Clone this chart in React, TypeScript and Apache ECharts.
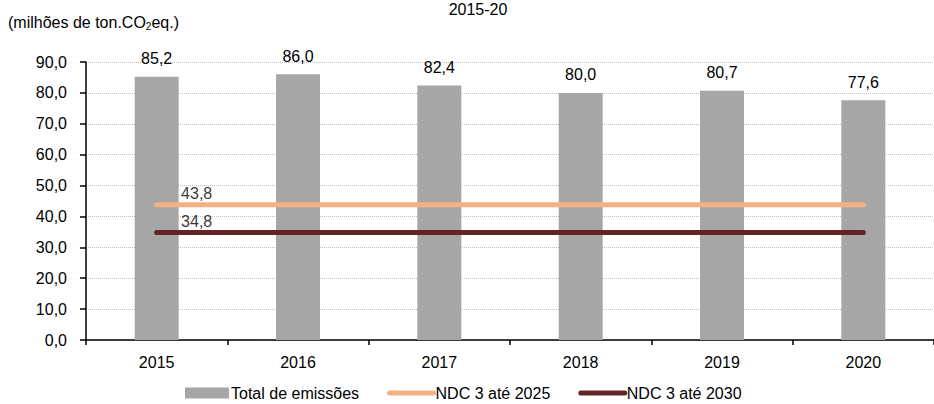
import React, { useEffect, useRef } from "react";
import * as echarts from "echarts";

const years = ["2015", "2016", "2017", "2018", "2019", "2020"];
const totalEmissoes = [85.2, 86.0, 82.4, 80.0, 80.7, 77.6];
const ndc2025 = [43.8, 43.8, 43.8, 43.8, 43.8, 43.8];
const ndc2030 = [34.8, 34.8, 34.8, 34.8, 34.8, 34.8];
const seriesNames = ["Total de emissões", "NDC 3 até 2025", "NDC 3 até 2030"];
const titleText = "2015-20";

const FONT = "'Liberation Sans Narrow', 'Arial Narrow', 'Liberation Sans', Arial, sans-serif";
const FS = 16;
const fmt = (v: number) => v.toFixed(1).replace(".", ",");

export default function App() {
  const ref = useRef<HTMLDivElement>(null);
  useEffect(() => {
    if (!ref.current) return;
    const chart = echarts.init(ref.current, undefined, { renderer: "svg" });
    chart.setOption({
      animation: false,
      backgroundColor: "#ffffff",
      textStyle: { fontFamily: FONT, color: "#000" },
      title: {
        text: titleText,
        left: 478,
        top: 1,
        textAlign: "center",
        padding: 0,
        textStyle: { fontFamily: FONT, fontSize: FS, fontWeight: "normal", color: "#000" },
      },
      graphic: [
        {
          type: "text",
          left: 8,
          top: 14,
          style: {
            text: "(milhões de ton.CO{sub|2}eq.)",
            fontFamily: FONT,
            fontSize: FS,
            fill: "#000",
            rich: {
              sub: { fontFamily: FONT, fontSize: 10, fill: "#000", verticalAlign: "bottom", padding: [8, 0, 0, 0] },
            },
          },
        },
      ],
      legend: {
        left: 180,
        top: 380,
        itemGap: 28,
        itemWidth: 44,
        itemHeight: 11,
        textStyle: { fontFamily: FONT, fontSize: FS, color: "#000", padding: [0, 0, 0, -3] },
        data: [
          { name: seriesNames[0], icon: "rect" },
          {
            name: seriesNames[1],
            itemStyle: { color: "transparent", opacity: 0, borderWidth: 0 },
            lineStyle: { color: "#f4b183", width: 5, cap: "round" },
          },
          {
            name: seriesNames[2],
            itemStyle: { color: "transparent", opacity: 0, borderWidth: 0 },
            lineStyle: { color: "#632523", width: 5, cap: "round" },
          },
        ],
      },
      grid: { left: 86, top: 62, bottom: 64, right: -8 },
      xAxis: {
        type: "category",
        data: years,
        axisLine: { lineStyle: { color: "#000", width: 1.5 } },
        axisTick: { show: true, length: 5, lineStyle: { color: "#000", width: 1.5 } },
        axisLabel: { fontFamily: FONT, fontSize: FS, color: "#000", margin: 14 },
      },
      yAxis: {
        type: "value",
        min: 0,
        max: 90,
        interval: 10,
        axisLine: { show: true, lineStyle: { color: "#000", width: 1.5 } },
        axisTick: { show: true, length: 6, lineStyle: { color: "#000", width: 1.5 } },
        axisLabel: { fontFamily: FONT, fontSize: FS, color: "#000", margin: 19, formatter: (v: number) => fmt(v) },
        splitLine: { show: true, lineStyle: { color: "#bfbfbf", type: [1, 1], width: 1 } },
      },
      series: [
        {
          name: seriesNames[0],
          type: "bar",
          data: totalEmissoes,
          barWidth: 44,
          itemStyle: { color: "#a6a6a6" },
          label: {
            show: true,
            position: "top",
            distance: 10,
            fontFamily: FONT,
            fontSize: FS,
            color: "#000",
            formatter: (p: any) => fmt(p.value),
          },
        },
        {
          name: seriesNames[1],
          type: "line",
          data: ndc2025,
          symbol: "none",
          lineStyle: { color: "#f4b183", width: 5, cap: "round" },
          itemStyle: { color: "#f4b183" },
        },
        {
          name: seriesNames[2],
          type: "line",
          data: ndc2030,
          symbol: "none",
          lineStyle: { color: "#632523", width: 5, cap: "round" },
          itemStyle: { color: "#632523" },
        },
        {
          name: "lbl2025",
          type: "scatter",
          data: [[0, ndc2025[0]]],
          symbolSize: 0,
          silent: true,
          label: {
            show: true,
            position: "top",
            offset: [40, 2],
            fontFamily: FONT,
            fontSize: FS,
            color: "#000",
            formatter: (p: any) => fmt(p.value[1]),
          },
        },
        {
          name: "lbl2030",
          type: "scatter",
          data: [[0, ndc2030[0]]],
          symbolSize: 0,
          silent: true,
          label: {
            show: true,
            position: "top",
            offset: [40, 2],
            fontFamily: FONT,
            fontSize: FS,
            color: "#000",
            formatter: (p: any) => fmt(p.value[1]),
          },
        },
      ],
    });
    return () => chart.dispose();
  }, []);
  return (
    <div
      ref={ref}
      style={{ position: "absolute", left: 0, top: 0, width: 934, height: 404, overflow: "hidden" }}
    />
  );
}
